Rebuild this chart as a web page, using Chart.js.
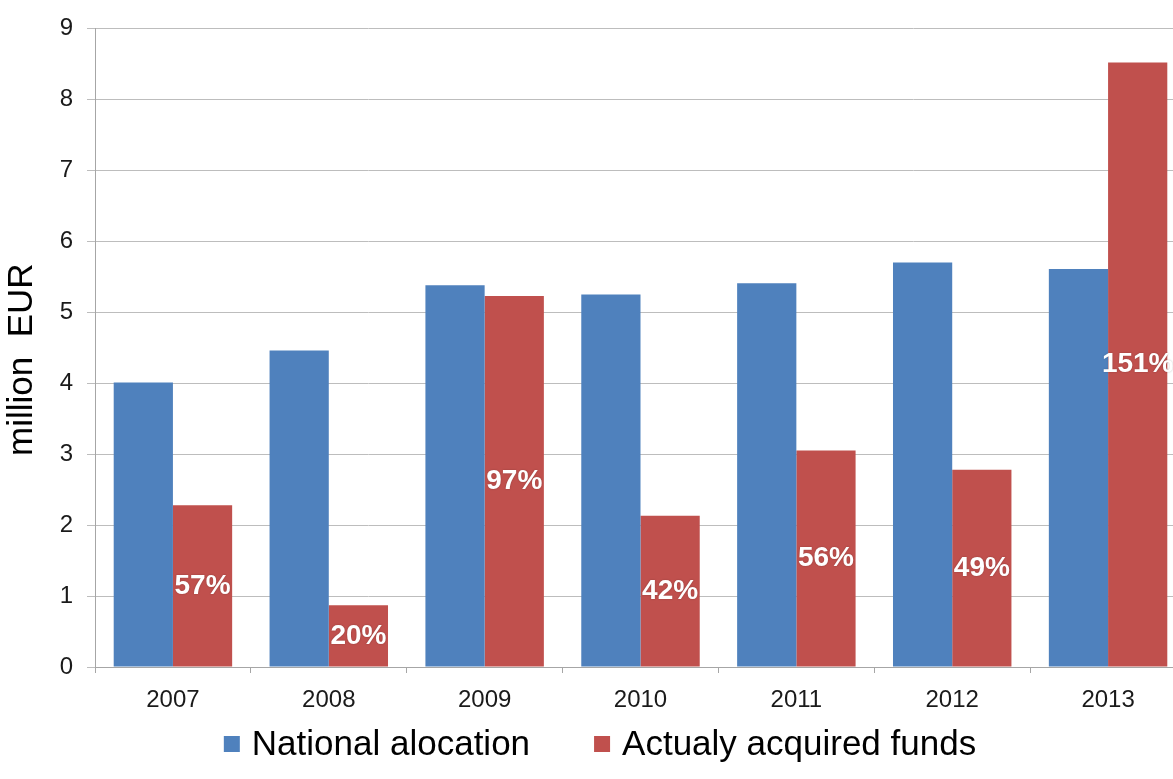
<!DOCTYPE html>
<html>
<head>
<meta charset="utf-8">
<script src="https://cdn.jsdelivr.net/npm/chart.js@4.4.0/dist/chart.umd.min.js"></script>
<style>
  html, body { margin: 0; padding: 0; background: #ffffff; overflow: hidden; }
  #wrap { position: absolute; left: 0; top: 0; width: 1188px; height: 779px; }
</style>
</head>
<body>
<div id="wrap"><canvas id="c"></canvas></div>
<script>
const categories = ['2007', '2008', '2009', '2010', '2011', '2012', '2013'];
const nationalAllocation = [4.01, 4.46, 5.38, 5.25, 5.41, 5.70, 5.61];
const acquiredFunds = [2.28, 0.87, 5.23, 2.13, 3.05, 2.78, 8.52];
const percentLabels = ['57%', '20%', '97%', '42%', '56%', '49%', '151%'];
const seriesNames = ['National alocation', 'Actualy acquired funds'];
const yTitle = 'million  EUR';

const FONT = '"Liberation Sans", Arial, sans-serif';

const barLabelPlugin = {
  id: 'barLabels',
  afterDatasetsDraw(chart) {
    const meta = chart.getDatasetMeta(1);
    const ctx = chart.ctx;
    ctx.save();
    ctx.font = 'bold 28px ' + FONT;
    ctx.fillStyle = '#ffffff';
    ctx.textAlign = 'center';
    ctx.textBaseline = 'middle';
    ctx.shadowColor = 'rgba(0,0,0,0.25)';
    ctx.shadowBlur = 2;
    meta.data.forEach((bar, i) => {
      const y = (bar.y + bar.base) / 2;
      ctx.fillText(percentLabels[i], bar.x, y);
    });
    ctx.restore();
  }
};

const yTitlePlugin = {
  id: 'yTitle',
  afterDraw(chart) {
    const ctx = chart.ctx;
    const area = chart.chartArea;
    ctx.save();
    ctx.font = '35px ' + FONT;
    ctx.fillStyle = '#000000';
    ctx.textAlign = 'center';
    ctx.textBaseline = 'middle';
    ctx.translate(22, (area.top + area.bottom) / 2 + 12);
    ctx.rotate(-Math.PI / 2);
    ctx.fillText(yTitle, 0, 0);
    ctx.restore();
  }
};

const legendPlugin = {
  id: 'customLegend',
  afterDraw(chart) {
    const ctx = chart.ctx;
    ctx.save();
    ctx.font = '35px ' + FONT;
    ctx.textBaseline = 'middle';
    ctx.textAlign = 'left';
    const box = 16, gapText = 12, gapItem = 64;
    const ds = chart.data.datasets;
    const widths = ds.map(d => ctx.measureText(d.label).width);
    let total = 0;
    ds.forEach((d, i) => { total += box + gapText + widths[i]; if (i > 0) total += gapItem; });
    const cx = 600;
    const cy = 744;
    let x = cx - total / 2;
    ds.forEach((d, i) => {
      ctx.fillStyle = d.backgroundColor;
      ctx.fillRect(x, cy - box / 2, box, box);
      x += box + gapText;
      ctx.fillStyle = '#000000';
      ctx.fillText(d.label, x, cy + 1);
      x += widths[i] + gapItem;
    });
    ctx.restore();
  }
};

new Chart(document.getElementById('c'), {
  type: 'bar',
  data: {
    labels: categories,
    datasets: [
      { label: seriesNames[0], data: nationalAllocation, backgroundColor: '#4F81BD',
        categoryPercentage: 0.76, barPercentage: 1.0 },
      { label: seriesNames[1], data: acquiredFunds, backgroundColor: '#C0504D',
        categoryPercentage: 0.76, barPercentage: 1.0 }
    ]
  },
  options: {
    responsive: true,
    maintainAspectRatio: false,
    animation: false,
    devicePixelRatio: 1,
    layout: { padding: { top: 26, right: 2, bottom: 72, left: 0 } },
    plugins: {
      legend: { display: false },
      tooltip: { enabled: false }
    },
    scales: {
      x: {
        grid: { display: true, drawOnChartArea: false, drawTicks: true, tickLength: 6,
                offset: true, color: '#a6a6a6' },
        border: { display: true, color: '#a6a6a6', width: 1 },
        ticks: { color: '#1a1a1a', font: { family: FONT, size: 24 }, padding: 13, maxRotation: 0 },
        afterFit(scale) { scale.height = 40; }
      },
      y: {
        min: 0, max: 9,
        ticks: { stepSize: 1, color: '#1a1a1a', font: { family: FONT, size: 24 }, padding: 14 },
        grid: { color: '#bdbdbd', tickLength: 8, drawTicks: true },
        border: { display: true, color: '#a6a6a6', width: 1 },
        title: { display: false },
        afterFit(scale) { scale.width = 95; }
      }
    }
  },
  plugins: [barLabelPlugin, yTitlePlugin, legendPlugin]
});
</script>
</body>
</html>
